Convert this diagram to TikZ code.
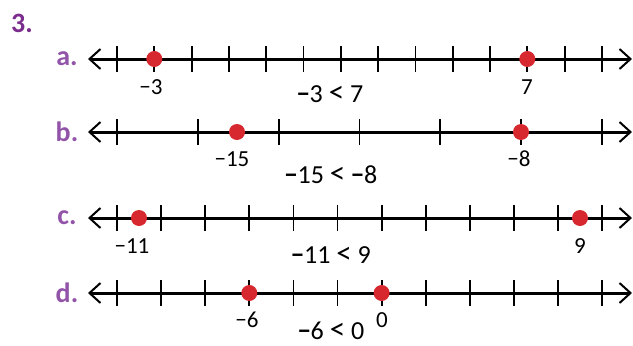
\documentclass[tikz,border=0pt]{standalone}
\usepackage{fontspec}
\setmainfont{Carlito}
\usetikzlibrary{arrows.meta}
\definecolor{numpurple}{RGB}{123,45,142}
\definecolor{partpurple}{RGB}{146,84,168}
\definecolor{dotred}{RGB}{215,40,47}
\newcommand{\lessmark}{{\fontsize{31}{31}\selectfont <}}
\tikzset{
  axis/.style={line width=3pt,{Straight Barb[length=11pt,width=20pt,line width=2pt]}-{Straight Barb[length=11pt,width=20pt,line width=2pt]}},
  tickmark/.style={line width=1.8pt},
  dotmark/.style={circle,fill=dotred,inner sep=0pt,minimum size=16pt},
  numlabel/.style={font=\fontsize{23}{26}\selectfont,inner sep=0pt},
  ineq/.style={font=\fontsize{26}{30}\selectfont,inner sep=0pt},
  partlabel/.style={font=\fontsize{28}{32}\selectfont\bfseries,text=partpurple,inner sep=0pt}
}
\begin{document}
\begin{tikzpicture}[x=1pt,y=-1pt]
  \useasboundingbox (0,0) rectangle (633,346);
  \node[partlabel,text=numpurple] (num) at (22,23) {3.};

  % a.
  \node[partlabel] (pa) at (67,59) {a.};
  \coordinate (la) at (88,59);
  \coordinate (ra) at (632,59);
  \draw[axis] (la) -- (ra);
  \foreach \i in {0,...,13}
    \draw[tickmark] (117+37.3*\i,46) -- (117+37.3*\i,72);
  \node[dotmark] (a1) at (154.3,59) {};
  \node[dotmark] (a2) at (527.3,59) {};
  \node[numlabel] (a1l) at (151,87) {−3};
  \node[numlabel] (a2l) at (527,87) {7};
  \node[ineq] (ia) at (330,94) {{\bfseries −}3 \lessmark{} 7};

  % b.
  \node[partlabel] (pb) at (67,132) {b.};
  \coordinate (lb) at (88,132);
  \coordinate (rb) at (632,132);
  \draw[axis] (lb) -- (rb);
  \foreach \i in {0,...,6}
    \draw[tickmark] (117+80.83*\i,119) -- (117+80.83*\i,145);
  \node[dotmark] (b1) at (237,132) {};
  \node[dotmark] (b2) at (521,132) {};
  \node[numlabel] (b1l) at (232,159) {−15};
  \node[numlabel] (b2l) at (519,159) {−8};
  \node[ineq] (ib) at (331,175) {{\bfseries −}15 \lessmark{} {\bfseries −}8};

  % c.
  \node[partlabel] (pc) at (67,218) {c.};
  \coordinate (lc) at (88,218);
  \coordinate (rc) at (632,218);
  \draw[axis] (lc) -- (rc);
  \foreach \i in {0,...,11}
    \draw[tickmark] (117+44.1*\i,205) -- (117+44.1*\i,231);
  \node[dotmark] (c1) at (139,218) {};
  \node[dotmark] (c2) at (580,218) {};
  \node[numlabel] (c1l) at (132,246) {−11};
  \node[numlabel] (c2l) at (580,246) {9};
  \node[ineq] (ic) at (331,255) {{\bfseries −}11 \lessmark{} 9};

  % d.
  \node[partlabel] (pd) at (67,293) {d.};
  \coordinate (ld) at (88,293);
  \coordinate (rd) at (632,293);
  \draw[axis] (ld) -- (rd);
  \foreach \i in {0,...,11}
    \draw[tickmark] (117+44.1*\i,280) -- (117+44.1*\i,306);
  \node[dotmark] (d1) at (249.3,293) {};
  \node[dotmark] (d2) at (381.6,293) {};
  \node[numlabel] (d1l) at (247,320) {−6};
  \node[numlabel] (d2l) at (382,320) {0};
  \node[ineq] (id) at (331,331) {{\bfseries −}6 \lessmark{} 0};
\end{tikzpicture}
\end{document}
